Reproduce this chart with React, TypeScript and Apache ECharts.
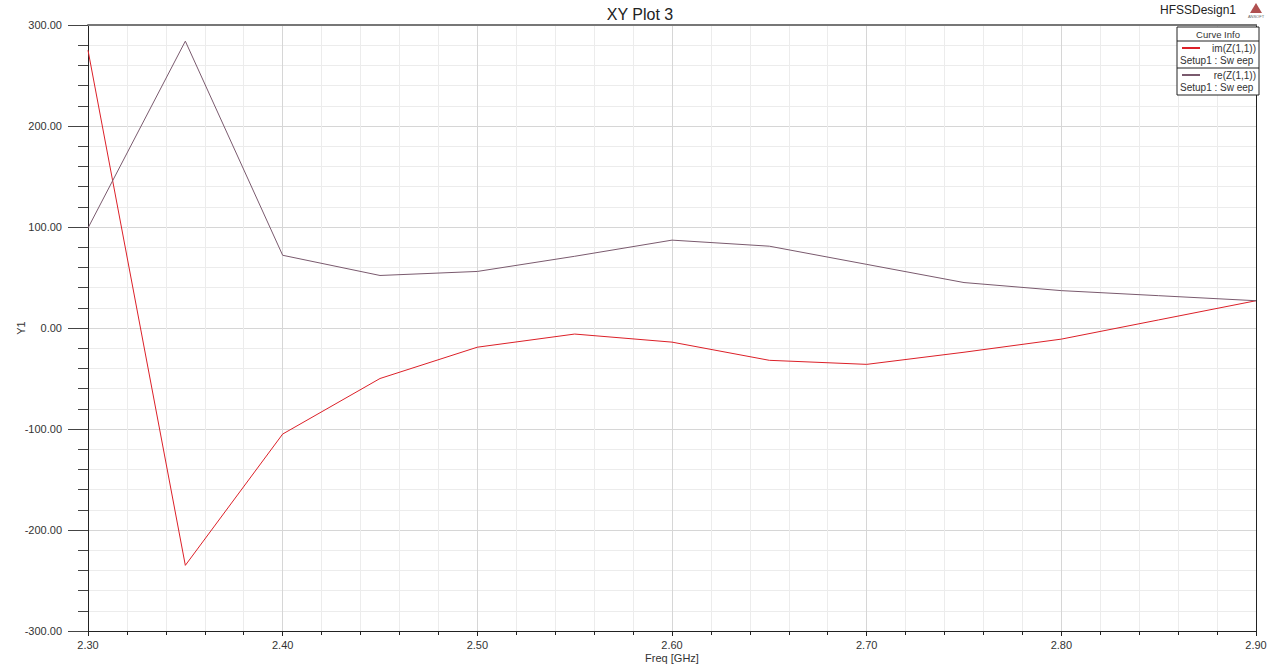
import React, { useEffect, useRef } from "react";
import * as echarts from "echarts";

const freqs = [2.3, 2.35, 2.4, 2.45, 2.5, 2.55, 2.6, 2.65, 2.7, 2.75, 2.8, 2.85, 2.9];
const imZ = [275, -235, -105, -50, -19, -6, -14, -32, -36, -24, -11, 8, 27];
const reZ = [99, 284, 72, 52, 56, 71, 87, 81, 63, 45, 37, 32, 27];
const seriesNames = ["im(Z(1,1))", "re(Z(1,1))"];
const seriesColors = ["#dc2028", "#7a5a6e"];
const titleText = "XY Plot 3";
const designName = "HFSSDesign1";
const xName = "Freq [GHz]";
const yName = "Y1";

const FONT = 'Arial, "Liberation Sans", sans-serif';

export default function App() {
  const ref = useRef<HTMLDivElement>(null);
  useEffect(() => {
    if (!ref.current) return;
    const chart = echarts.init(ref.current, null, { renderer: "svg" });
    const mk = (vals: number[]) => freqs.map((f, i) => [f, vals[i]]);
    const legendX = 1177;
    const legendY = 27;
    const legendW = 82;
    chart.setOption({
      animation: false,
      backgroundColor: "#ffffff",
      textStyle: { fontFamily: FONT },
      title: {
        text: titleText,
        left: "center",
        top: 1,
        textStyle: { fontSize: 16, fontWeight: "normal", color: "#222", fontFamily: FONT },
      },
      grid: { left: 88, right: 24, top: 25, bottom: 35, show: false, outerBoundsMode: "none", containLabel: false },
      xAxis: [
        {
          type: "value",
          min: 2.3,
          max: 2.9,
          interval: 0.1,
          name: xName,
          nameLocation: "middle",
          nameGap: 21,
          nameMoveOverlap: false,
          nameTextStyle: { fontSize: 11, color: "#333" },
          axisLine: { show: true, onZero: false, lineStyle: { color: "#222", width: 1 } },
          axisTick: { show: true, length: 5, lineStyle: { color: "#222" } },
          minorTick: { show: true, splitNumber: 5, length: 4, lineStyle: { color: "#222" } },
          axisLabel: {
            fontSize: 11,
            color: "#333",
            margin: 8,
            formatter: (v: number) => v.toFixed(2),
          },
          splitLine: { show: true, lineStyle: { color: "#d6d6d6", width: 1 } },
          minorSplitLine: { show: true, lineStyle: { color: "#ececec", width: 1 } },
        },
        {
          type: "value",
          position: "top",
          min: 2.3,
          max: 2.9,
          axisLine: { show: true, onZero: false, lineStyle: { color: "#777", width: 2 } },
          axisTick: { show: false },
          axisLabel: { show: false },
          splitLine: { show: false },
        },
      ],
      yAxis: [
        {
          type: "value",
          min: -300,
          max: 300,
          interval: 100,
          name: yName,
          nameLocation: "middle",
          nameGap: 62,
          nameMoveOverlap: false,
          nameTextStyle: { fontSize: 11, color: "#333" },
          axisLine: { show: true, onZero: false, lineStyle: { color: "#222", width: 1 } },
          axisTick: { show: true, length: 20, lineStyle: { color: "#444" } },
          minorTick: { show: true, splitNumber: 5, length: 10, lineStyle: { color: "#444" } },
          axisLabel: {
            fontSize: 11,
            color: "#333",
            margin: 26,
            formatter: (v: number) => v.toFixed(2),
          },
          splitLine: { show: true, lineStyle: { color: "#d6d6d6", width: 1 } },
          minorSplitLine: { show: true, lineStyle: { color: "#ececec", width: 1 } },
        },
        {
          type: "value",
          position: "right",
          min: -300,
          max: 300,
          axisLine: { show: true, onZero: false, lineStyle: { color: "#222", width: 1 } },
          axisTick: { show: false },
          axisLabel: { show: false },
          splitLine: { show: false },
        },
      ],
      series: [
        {
          name: seriesNames[0],
          type: "line",
          data: mk(imZ),
          showSymbol: false,
          lineStyle: { color: seriesColors[0], width: 1 },
          itemStyle: { color: seriesColors[0] },
        },
        {
          name: seriesNames[1],
          type: "line",
          data: mk(reZ),
          showSymbol: false,
          lineStyle: { color: seriesColors[1], width: 1 },
          itemStyle: { color: seriesColors[1] },
        },
      ],
      graphic: [
        {
          type: "text",
          right: 44,
          top: 4,
          style: { text: designName, fontSize: 12, fill: "#222", fontFamily: FONT },
        },
        {
          type: "polygon",
          shape: { points: [[1256, 3], [1250, 13], [1262, 13]] },
          style: { fill: "#b05050" },
        },
        {
          type: "text",
          x: 1256,
          y: 14,
          style: { text: "ANSOFT", fontSize: 4, fill: "#666", align: "center", fontFamily: FONT },
        },
        {
          type: "rect",
          z: 100,
          shape: { x: legendX, y: legendY, width: legendW, height: 68 },
          style: { fill: "#fff", stroke: "#222", lineWidth: 1 },
        },
        {
          type: "text",
          z: 101,
          x: legendX + legendW / 2,
          y: legendY + 2,
          style: { text: "Curve Info", fontSize: 9.5, fill: "#333", align: "center", fontFamily: FONT },
        },
        {
          type: "line",
          z: 101,
          shape: { x1: legendX, y1: legendY + 14, x2: legendX + legendW, y2: legendY + 14 },
          style: { stroke: "#222", lineWidth: 1 },
        },
        {
          type: "line",
          z: 101,
          shape: { x1: legendX, y1: legendY + 41, x2: legendX + legendW, y2: legendY + 41 },
          style: { stroke: "#222", lineWidth: 1 },
        },
        ...[0, 1].flatMap((i) => {
          const y0 = legendY + 14 + i * 27;
          return [
            {
              type: "line",
              z: 101,
              shape: { x1: legendX + 5, y1: y0 + 7, x2: legendX + 23, y2: y0 + 7 },
              style: { stroke: seriesColors[i], lineWidth: 2 },
            },
            {
              type: "text",
              z: 101,
              x: legendX + 79,
              y: y0 + 2,
              style: { text: seriesNames[i], fontSize: 10, fill: "#333", align: "right", fontFamily: FONT },
            },
            {
              type: "text",
              z: 101,
              x: legendX + 3,
              y: y0 + 14,
              style: { text: "Setup1 : Sw eep", fontSize: 10, fill: "#333", fontFamily: FONT },
            },
          ];
        }),
      ],
    });
    return () => chart.dispose();
  }, []);
  return (
    <div
      ref={ref}
      style={{ position: "fixed", left: 0, top: 0, width: 1280, height: 666 }}
    />
  );
}
